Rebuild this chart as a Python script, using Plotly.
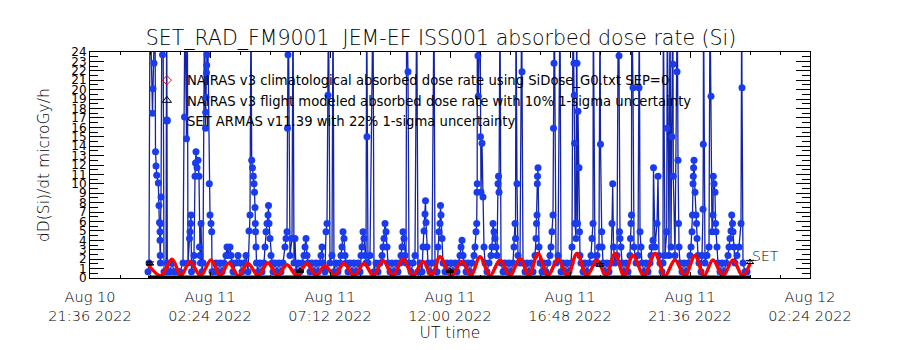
import pandas as pd
import plotly.graph_objects as go

# ---------------- data ----------------
# hours after 2022-08-11 00:00 UT
BASE = "2022-08-11 00:00"

x_tick_times = ["2022-08-10 21:36", "2022-08-11 02:24", "2022-08-11 07:12", "2022-08-11 12:00",
                "2022-08-11 16:48", "2022-08-11 21:36", "2022-08-12 02:24"]
x_tick_text = ["Aug 10<br>21:36 2022", "Aug 11<br>02:24 2022", "Aug 11<br>07:12 2022", "Aug 11<br>12:00 2022",
               "Aug 11<br>16:48 2022", "Aug 11<br>21:36 2022", "Aug 12<br>02:24 2022"]

# SET ARMAS measured dose rate (values above 24 run off the top of the chart)
blue_hours = [
    -0.08, -0.04, 0.00, 0.10, 0.12, 0.16, 0.20, 0.22, 0.24, 0.268, 0.332, 0.36, 0.38, 0.40, 0.40, 0.408, 0.416, 0.424, 0.44, 0.48, 0.50, 0.52, 0.56, 0.64, 0.668, 0.692,
    0.80, 0.88, 0.96, 1.04, 1.12, 1.20,
    1.32, 1.38, 1.40, 1.46, 1.492, 1.52, 1.58, 1.60, 1.62, 1.64, 1.66, 1.72, 1.76, 1.80, 1.82, 1.84, 1.88, 1.92, 1.96, 1.98, 2.00, 2.02, 2.04, 2.08,
    2.12, 2.18, 2.22, 2.228, 2.24, 2.26, 2.268, 2.28, 2.292, 2.372, 2.40, 2.44, 2.468, 2.48,
    2.56, 2.64, 2.72, 2.80, 2.88, 2.96,
    3.04, 3.08, 3.12, 3.20, 3.24, 3.28, 3.32,
    3.44, 3.52, 3.60, 3.68, 3.76, 3.84, 3.92,
    3.96, 4.00, 4.04, 4.068, 4.10, 4.132, 4.16, 4.18, 4.20, 4.212, 4.22, 4.24, 4.26, 4.32,
    4.40, 4.48, 4.56,
    4.60, 4.64, 4.68, 4.72, 4.74, 4.76, 4.80, 4.84, 4.88, 4.92,
    5.00, 5.08, 5.16, 5.24, 5.32,
    5.40, 5.44, 5.48, 5.50, 5.52, 5.532, 5.60, 5.68, 5.72, 5.76, 5.80, 5.84,
    5.92, 6.00, 6.08,
    6.16, 6.20, 6.24, 6.28, 6.32, 6.40, 6.48, 6.56, 6.64, 6.72,
    6.80, 6.84, 6.88, 6.92, 7.00,
    7.04, 7.08, 7.12, 7.14, 7.20, 7.28, 7.32, 7.36,
    7.44, 7.52, 7.60,
    7.64, 7.68, 7.72, 7.76, 7.80, 7.84, 7.92,
    8.00, 8.08, 8.16, 8.24, 8.32, 8.40,
    8.44, 8.48, 8.52, 8.56, 8.60, 8.64, 8.668, 8.68, 8.72, 8.80, 8.92, 8.96,
    9.04, 9.12, 9.20, 9.28,
    9.32, 9.36, 9.40, 9.44, 9.48, 9.52, 9.60,
    9.68, 9.76, 9.84, 9.92, 10.00,
    10.04, 10.08, 10.12, 10.16, 10.20, 10.24, 10.268, 10.32, 10.36, 10.44, 10.52, 10.60, 10.668, 10.72,
    10.80, 10.88,
    10.92, 10.96, 11.00, 11.02, 11.04, 11.08, 11.12, 11.20, 11.28, 11.36, 11.40, 11.48, 11.52, 11.56, 11.60, 11.62, 11.64, 11.68, 11.72, 11.80,
    11.88, 11.96, 12.04, 12.12, 12.20, 12.28, 12.36,
    12.40, 12.44, 12.48, 12.52, 12.56, 12.64, 12.72, 12.80, 12.88, 12.96,
    13.00, 13.04, 13.068, 13.08, 13.088, 13.092, 13.12, 13.132, 13.20, 13.22, 13.24, 13.28, 13.32, 13.36, 13.40, 13.48,
    13.56, 13.64,
    13.68, 13.72, 13.76, 13.80, 13.84, 13.88, 13.92, 13.94, 13.96, 14.00, 14.04, 14.12,
    14.20, 14.28, 14.36, 14.44, 14.52,
    14.56, 14.60, 14.62, 14.64, 14.68, 14.72, 14.80, 14.868, 14.88, 14.92, 15.00,
    15.08, 15.16, 15.24, 15.32, 15.40,
    15.44, 15.46, 15.48, 15.492, 15.50, 15.52, 15.56, 15.60, 15.68,
    15.76, 15.84, 15.92, 16.00,
    16.04, 16.08, 16.12, 16.14, 16.16, 16.172, 16.24, 16.32, 16.40, 16.44,
    16.52, 16.60, 16.68, 16.76, 16.84,
    16.88, 16.92, 16.96, 16.972, 16.984, 17.00, 17.04, 17.068, 17.08, 17.10, 17.12, 17.16, 17.18, 17.20, 17.24, 17.32,
    17.40, 17.48, 17.56, 17.64,
    17.68, 17.72, 17.732, 17.80, 17.88, 17.96, 18.00, 18.02, 18.068, 18.08, 18.12, 18.20,
    18.28, 18.36, 18.44,
    18.48, 18.508, 18.54, 18.60, 18.68, 18.732, 18.76, 18.78, 18.80, 18.84, 18.88, 18.96,
    19.04, 19.12, 19.20,
    19.22, 19.24, 19.26, 19.268, 19.32, 19.36, 19.44, 19.52, 19.56, 19.572, 19.60, 19.64, 19.68, 19.76,
    19.84, 19.92, 20.00,
    20.04, 20.08, 20.12, 20.14, 20.20, 20.28, 20.32, 20.36, 20.40, 20.48,
    20.52, 20.532, 20.60, 20.668, 20.68, 20.692, 20.76, 20.80, 20.84, 20.88, 20.908, 20.92, 20.932, 21.00, 21.08, 21.092, 21.12, 21.14, 21.16, 21.20, 21.28,
    21.36, 21.44, 21.52, 21.60,
    21.64, 21.68, 21.70, 21.72, 21.732, 21.744, 21.76, 21.80, 21.84, 21.86, 21.88, 21.92, 21.96, 22.04,
    22.08, 22.12, 22.132, 22.14, 22.20, 22.28, 22.36, 22.40, 22.44, 22.48, 22.52, 22.532, 22.56, 22.60, 22.62, 22.64, 22.68, 22.72, 22.80,
    22.88, 22.96, 23.04, 23.12,
    23.16, 23.20, 23.24, 23.268, 23.30, 23.32, 23.36, 23.40, 23.48, 23.56, 23.64, 23.668, 23.68, 23.72, 23.80, 23.88,
]
blue_values = [
    0.67, 1.6, 30, 17.5, 20.1, 22.8, 30, 13.4, 11.9, 10.9, 10.1, 7.7, 5.9, 4.9, 4.0, 2.4, 1.6, 5.8, 8.6, 30, 23.7, 30, 0.67, 0.67, 30, 1.6,
    0.67, 1.6, 0.67, 0.67, 0.67, 0.67,
    1.6, 17.1, 30, 14.8, 30, 1.6, 4.2, 4.9, 5.8, 6.7, 0.67, 1.6, 2.4, 10.8, 12.2, 13.4, 11.7, 12.5, 10.8, 3.3, 2.4, 1.6, 5.8, 0.67,
    1.6, 30, 15.9, 17.6, 19.2, 21.8, 22.6, 23.7, 30, 10.0, 6.7, 5.8, 4.9, 0.67,
    0.67, 1.6, 0.67, 1.6, 0.67, 1.6,
    2.4, 3.3, 2.4, 3.3, 2.4, 1.6, 0.67,
    1.6, 2.4, 1.6, 0.67, 1.6, 2.4, 0.67,
    5.0, 6.7, 30, 12.5, 11.7, 10.8, 10.0, 9.1, 7.5, 5.8, 4.9, 3.3, 1.6, 0.67,
    1.6, 0.67, 1.6,
    3.3, 4.9, 5.8, 6.7, 7.7, 5.8, 4.2, 2.4, 1.6, 0.67,
    1.6, 0.67, 1.6, 0.67, 1.6,
    3.3, 4.2, 4.9, 15.9, 23.7, 30, 2.4, 4.2, 30, 1.6, 4.2, 0.67,
    1.6, 0.67, 1.6,
    2.4, 3.3, 4.2, 2.4, 1.6, 0.67, 1.6, 0.67, 1.6, 0.67,
    1.6, 2.4, 3.3, 1.6, 0.67,
    4.9, 5.8, 19.4, 30, 1.6, 2.4, 30, 0.67,
    1.6, 0.67, 1.6,
    2.4, 3.3, 4.9, 4.2, 2.4, 1.6, 0.67,
    1.6, 0.67, 1.6, 0.67, 1.6, 0.67,
    2.4, 3.3, 4.9, 4.2, 2.4, 1.6, 30, 15.0, 1.6, 2.4, 30, 0.67,
    1.6, 0.67, 1.6, 2.4,
    3.3, 4.2, 5.8, 4.9, 3.3, 1.6, 0.67,
    1.6, 0.67, 1.6, 0.67, 1.6,
    2.4, 3.3, 4.9, 4.2, 2.4, 1.6, 30, 21.9, 1.6, 0.67, 1.6, 2.4, 30, 0.67,
    1.6, 0.67,
    3.3, 5.0, 6.8, 8.2, 5.9, 3.3, 1.6, 0.67, 1.6, 30, 1.6, 0.67, 3.3, 4.9, 5.8, 7.7, 6.7, 4.2, 1.6, 0.67,
    1.6, 0.67, 1.6, 0.67, 1.6, 0.67, 1.6,
    2.4, 3.3, 4.0, 2.4, 1.6, 0.67, 1.6, 0.67, 1.6, 2.4,
    3.3, 4.9, 5.8, 9.1, 10.0, 30, 23.6, 19.3, 30, 15.0, 9.1, 14.3, 8.6, 3.3, 1.6, 0.67,
    1.6, 2.4,
    3.3, 5.8, 4.9, 4.2, 3.3, 2.4, 10.0, 10.8, 9.1, 30, 1.6, 0.67,
    1.6, 0.67, 1.6, 0.67, 1.6,
    3.3, 5.8, 4.2, 30, 10.0, 2.4, 1.6, 30, 21.9, 1.6, 0.67,
    1.6, 0.67, 1.6, 0.67, 2.4,
    4.2, 5.8, 6.7, 10.0, 10.8, 11.7, 3.3, 1.6, 0.67,
    1.6, 0.67, 1.6, 2.4,
    3.3, 4.9, 6.7, 15.9, 22.8, 30, 1.6, 2.4, 30, 0.67,
    1.6, 0.67, 1.6, 0.67, 1.6,
    3.3, 30, 22.8, 19.4, 14.3, 5.8, 4.2, 30, 22.8, 5.8, 17.7, 11.7, 4.9, 2.4, 1.6, 0.67,
    1.6, 0.67, 1.6, 2.4,
    4.2, 5.8, 30, 1.6, 2.4, 3.3, 30, 14.2, 4.9, 3.3, 1.6, 0.67,
    1.6, 0.67, 1.6,
    5.8, 10.0, 3.3, 1.6, 2.4, 30, 23.6, 4.9, 4.2, 3.3, 1.6, 0.67,
    1.6, 0.67, 2.4,
    4.2, 5.8, 6.7, 30, 20.2, 3.3, 1.6, 2.4, 20.2, 30, 4.9, 3.3, 1.6, 0.67,
    1.6, 0.67, 1.6,
    2.4, 3.3, 4.0, 11.7, 3.3, 5.8, 10.8, 2.4, 1.6, 0.67,
    1.6, 30, 2.4, 4.9, 15.9, 30, 2.4, 30, 3.3, 15.0, 30, 22.7, 10.8, 2.4, 21.9, 30, 12.5, 5.8, 3.3, 1.6, 0.67,
    1.6, 0.67, 1.6, 2.4,
    3.3, 4.9, 6.7, 10.0, 10.8, 11.7, 12.5, 9.1, 6.7, 5.8, 4.2, 2.4, 1.6, 0.67,
    2.4, 7.3, 14.2, 30, 1.6, 2.4, 3.3, 30, 19.3, 4.9, 6.7, 10.8, 10.0, 9.1, 5.8, 4.9, 3.3, 1.6, 0.67,
    1.6, 0.67, 1.6, 2.4,
    3.3, 4.2, 5.0, 6.7, 5.8, 4.9, 3.3, 1.6, 2.4, 3.3, 5.8, 30, 20.2, 1.6, 0.67, 0.67,
]
assert len(blue_hours) == len(blue_values), (len(blue_hours), len(blue_values))

# NAIRAS v3 climatological dose rate (orbit-modulated), peaks and troughs
red_hours = [-0.04, 0.44, 0.88, 1.24, 1.60, 2.02, 2.44, 2.80, 3.16, 3.54, 3.92, 4.32, 4.72, 5.10, 5.48, 5.88,
             6.28, 6.64, 7.00, 7.38, 7.76, 8.16, 8.56, 8.94, 9.32, 9.72, 10.12, 10.52, 10.92, 11.26, 11.60,
             12.04, 12.48, 12.84, 13.20, 13.60, 14.00, 14.40, 14.80, 15.16, 15.52, 15.92, 16.32, 16.70,
             17.08, 17.48, 17.88, 18.24, 18.60, 18.96, 19.32, 19.76, 20.20, 20.60, 21.00, 21.40, 21.80,
             22.16, 22.52, 22.92, 23.32, 23.70, 24.00]
red_values = [1.3, 0.25, 2.0, 0.25, 1.75, 0.25, 1.9, 0.25, 1.6, 0.25, 1.55, 0.25, 1.6, 0.25, 1.4, 0.25,
              1.55, 0.25, 1.3, 0.25, 1.55, 0.25, 1.55, 0.25, 1.85, 0.25, 2.0, 0.25, 1.75, 0.25, 2.25,
              0.25, 1.75, 0.25, 2.25, 0.25, 1.9, 0.25, 2.1, 0.25, 2.6, 0.25, 2.0, 0.25,
              2.6, 0.25, 1.9, 0.25, 2.6, 0.25, 2.4, 0.25, 2.6, 0.25, 1.9, 0.25, 2.4,
              0.25, 1.9, 0.25, 1.9, 0.25, 1.5]

# NAIRAS v3 flight modeled dose rate
flight_hours = [0.0, 6.0, 12.0, 18.0, 24.0]
flight_values = [1.55, 0.75, 0.75, 1.4, 1.7]
flight_base_hours = [-0.08, 24.0]
flight_base_values = [0.1, 0.1]

legend_names = [
    "NAIRAS v3 climatological absorbed dose rate using SiDose_G0.txt SEP=0",
    "NAIRAS v3 flight modeled absorbed dose rate with 10% 1-sigma uncertainty",
    "SET ARMAS v11.39 with 22% 1-sigma uncertainty",
]


def to_time(hours):
    return [pd.Timestamp(BASE) + pd.Timedelta(hours=h) for h in hours]


FONT = "DejaVu Sans"
W = 200  # thin strokes, like the vector font of the original
BLUE_LINE = "#1424a8"
BLUE_DOT = "#1a3cf0"

fig = go.Figure()
fig.add_trace(go.Scatter(x=to_time(blue_hours), y=blue_values, mode="lines+markers",
                         line=dict(color=BLUE_LINE, width=1.3),
                         marker=dict(color=BLUE_DOT, size=7), showlegend=False))
fig.add_trace(go.Scatter(x=to_time(red_hours), y=red_values, mode="lines",
                         line=dict(color="#ff0000", width=3.5, shape="spline", smoothing=1),
                         showlegend=False))
fig.add_trace(go.Scatter(x=to_time(flight_base_hours), y=flight_base_values, mode="lines",
                         line=dict(color="black", width=3), showlegend=False))
fig.add_trace(go.Scatter(x=to_time(flight_hours), y=flight_values, mode="markers",
                         marker=dict(symbol="triangle-up-open", size=6, color="black"),
                         error_y=dict(type="percent", value=10, color="black", thickness=1, width=4),
                         showlegend=False))

# legend entries
fig.add_trace(go.Scatter(x=[None], y=[None], mode="markers", name=legend_names[0],
                         marker=dict(symbol="diamond-open", size=7, color="#ff0000")))
fig.add_trace(go.Scatter(x=[None], y=[None], mode="markers", name=legend_names[1],
                         marker=dict(symbol="triangle-up-open", size=8, color="black")))
fig.add_trace(go.Scatter(x=[None], y=[None], mode="markers", name=legend_names[2],
                         marker=dict(symbol="circle", size=8, color=BLUE_DOT)))

fig.add_annotation(x=pd.Timestamp(BASE) + pd.Timedelta(hours=24.0), y=2.3, text="SET",
                   showarrow=False, xanchor="left", yanchor="middle",
                   font=dict(family=FONT, size=14, color="black", weight=W))
fig.add_annotation(x=(44 - 90) / 720, xref="paper", y=0.5, yref="paper", text="dD(Si)/dt microGy/h",
                   textangle=-90, showarrow=False, xanchor="center", yanchor="middle",
                   font=dict(family=FONT, size=15.5, color="black", weight=W))

fig.update_layout(
    width=900, height=350,
    margin=dict(l=90, r=90, t=52, b=72),
    paper_bgcolor="white", plot_bgcolor="white",
    font=dict(family=FONT, color="black", weight=W),
    title=dict(text="SET_RAD_FM9001  JEM-EF ISS001 absorbed dose rate (Si)",
               x=(441 - 90) / 720, xref="paper", xanchor="center", y=1 - 38 / 350, yanchor="middle",
               font=dict(family=FONT, size=20.5, color="black", weight=W)),
    legend=dict(x=0.079, y=0.942, xanchor="left", yanchor="top", bgcolor="rgba(0,0,0,0)",
                font=dict(family=FONT, size=13.2, color="black", weight=400), itemwidth=30, tracegroupgap=0),
    xaxis=dict(type="date", range=["2022-08-10 21:36", "2022-08-12 02:24"],
               tickmode="array", tickvals=x_tick_times, ticktext=x_tick_text,
               ticks="inside", ticklen=6, tickcolor="black", showline=True, linecolor="black",
               linewidth=1, mirror="allticks", showgrid=False, zeroline=False,
               ticklabelstandoff=6,
               tickfont=dict(family=FONT, size=14.5, color="black", weight=W),
               title=dict(text="UT time", font=dict(family=FONT, size=15.5, color="black", weight=W), standoff=3),
               minor=dict(tick0="2022-08-10 21:36", dtick=4320000, ticks="inside", ticklen=3,
                          tickcolor="black", showgrid=False)),
    yaxis=dict(range=[0, 24], tickmode="linear", tick0=0, dtick=1,
               ticks="inside", ticklen=14, tickcolor="black", showline=True, linecolor="black",
               linewidth=1, mirror="allticks", showgrid=False, zeroline=False,
               tickfont=dict(family=FONT, size=12, color="black", weight=400),
               minor=dict(dtick=0.5, ticks="inside", ticklen=8, tickcolor="black", showgrid=False)),
)

fig.write_html("out.html")
